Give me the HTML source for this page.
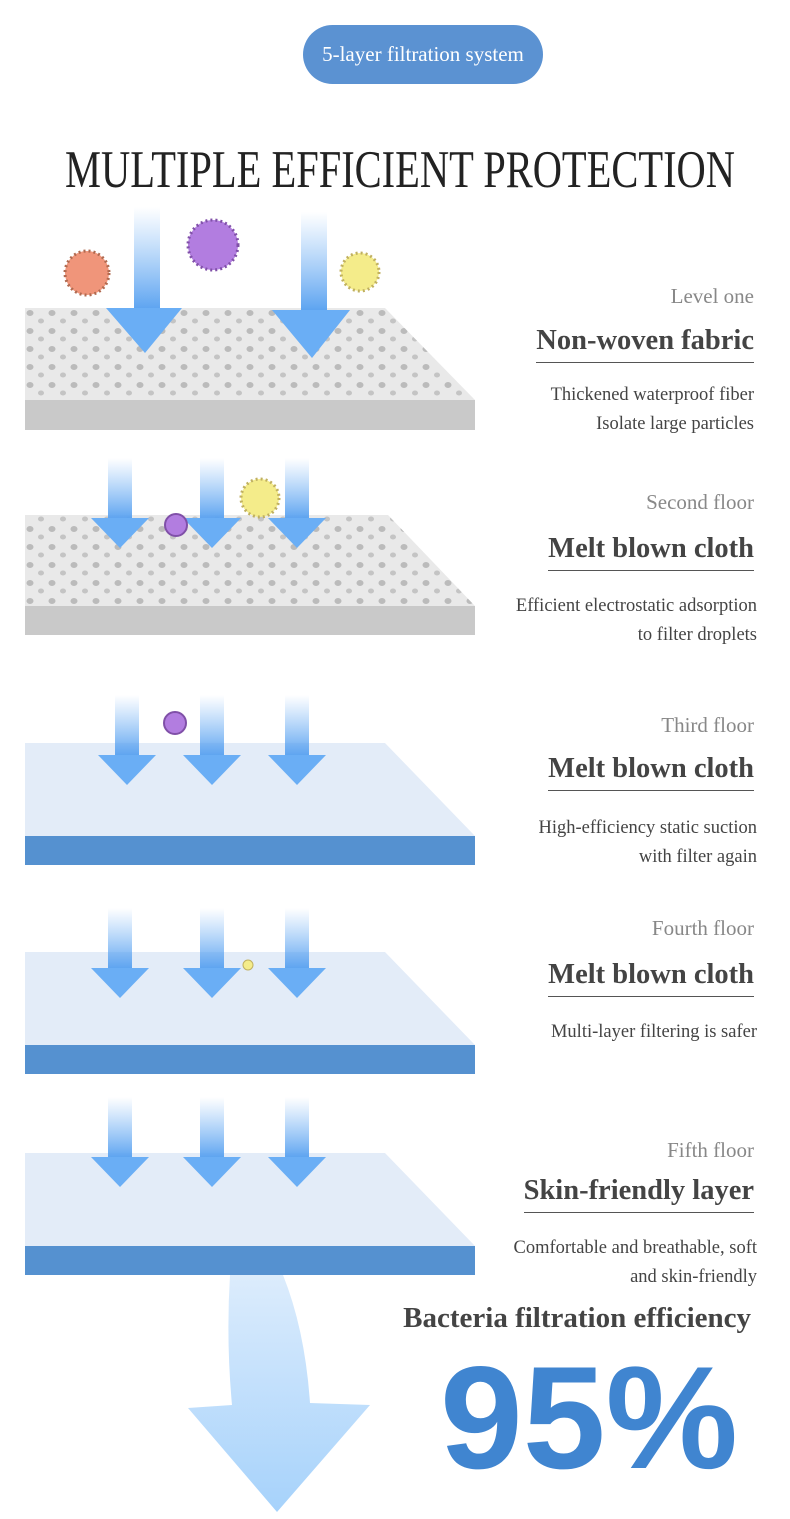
<!DOCTYPE html>
<html><head><meta charset="utf-8"><style>
body{margin:0;width:790px;height:1519px;position:relative;background:#fff;overflow:hidden;font-family:"Liberation Serif",serif}
.t{position:absolute;right:36px;text-align:right;white-space:nowrap}
.lv{font-size:21px;color:#888}
.h{font-size:28.5px;font-weight:bold;color:#444;border-bottom:1px solid #555;padding-bottom:5px}
.d{font-size:18.5px;color:#444;line-height:29px}
</style></head><body>
<div style="position:absolute;left:303px;top:25px;width:240px;height:59px;border-radius:30px;background:#5b92d2;color:#fff;font-size:21px;line-height:59px;text-align:center">5-layer filtration system</div>
<svg width="790" height="1519" style="position:absolute;left:0;top:0">
<defs>
<linearGradient id="a" x1="0" y1="0" x2="0" y2="1"><stop offset="0" stop-color="#6fb0f5" stop-opacity="0"/><stop offset="1" stop-color="#5aa2f0"/></linearGradient>
<linearGradient id="b" x1="0" y1="0" x2="0" y2="1"><stop offset="0" stop-color="#dcecfc"/><stop offset="1" stop-color="#a6d2fb"/></linearGradient>
<pattern id="p" width="22" height="18" patternUnits="userSpaceOnUse"><rect width="22" height="18" fill="#e9e9e9"/><ellipse cx="8" cy="7" rx="3.5" ry="3" fill="#bbb"/><ellipse cx="19" cy="15" rx="3" ry="2.5" fill="#c4c4c4"/></pattern>
<g id="ar"><rect x="-12" y="0" width="24" height="62" fill="url(#a)"/><polygon points="-29,60 29,60 0,90" fill="#6aaef5"/></g>
</defs>
<text x="65" y="187" textLength="670" lengthAdjust="spacingAndGlyphs" font-family="Liberation Serif, serif" font-size="53" fill="#222">MULTIPLE EFFICIENT PROTECTION</text>
<polygon points="25,308 385,308 475,400 25,400" fill="url(#p)"/><rect x="25" y="400" width="450" height="30" fill="#c9c9c9"/>
<polygon points="25,515 388,515 475,606 25,606" fill="url(#p)"/><rect x="25" y="606" width="450" height="29" fill="#c9c9c9"/>
<polygon points="25,743 385,743 475,836 25,836" fill="#e3ecf8"/><rect x="25" y="836" width="450" height="29" fill="#5591d0"/>
<polygon points="25,952 385,952 475,1045 25,1045" fill="#e3ecf8"/><rect x="25" y="1045" width="450" height="29" fill="#5591d0"/>
<polygon points="25,1153 385,1153 475,1246 25,1246" fill="#e3ecf8"/><rect x="25" y="1246" width="450" height="29" fill="#5591d0"/>
<rect x="134" y="207" width="26" height="104" fill="url(#a)"/><polygon points="106,308 182,308 145,353" fill="#6aaef5"/>
<rect x="301" y="212" width="26" height="100" fill="url(#a)"/><polygon points="272,310 350,310 312,358" fill="#6aaef5"/>
<use href="#ar" x="120" y="458"/><use href="#ar" x="212" y="458"/><use href="#ar" x="297" y="458"/>
<use href="#ar" x="127" y="695"/><use href="#ar" x="212" y="695"/><use href="#ar" x="297" y="695"/>
<use href="#ar" x="120" y="908"/><use href="#ar" x="212" y="908"/><use href="#ar" x="297" y="908"/>
<use href="#ar" x="120" y="1097"/><use href="#ar" x="212" y="1097"/><use href="#ar" x="297" y="1097"/>
<path d="M230,1275 L283,1275 Q305,1330 310,1403 L370,1405 L277,1512 L188,1408 L232,1405 Q226,1340 230,1275Z" fill="url(#b)"/>
<circle cx="87" cy="273" r="22" fill="#f0957a" stroke="#b06a50" stroke-dasharray="2 3" stroke-width="3"/>
<circle cx="213" cy="245" r="25" fill="#b27de0" stroke="#8050a8" stroke-dasharray="2 3" stroke-width="3"/>
<circle cx="360" cy="272" r="19" fill="#f4ec8a" stroke="#c0b060" stroke-dasharray="2 3" stroke-width="3"/>
<circle cx="176" cy="525" r="11" fill="#b27de0" stroke="#8050a8" stroke-width="2"/>
<circle cx="260" cy="498" r="19" fill="#f4ec8a" stroke="#c0b060" stroke-dasharray="2 3" stroke-width="3"/>
<circle cx="175" cy="723" r="11" fill="#b27de0" stroke="#8050a8" stroke-width="2"/>
<circle cx="248" cy="965" r="5" fill="#f4ec8a" stroke="#c0b060"/>
<text x="440" y="1468" textLength="298" lengthAdjust="spacingAndGlyphs" font-family="Liberation Sans, sans-serif" font-weight="bold" font-size="146" fill="#4085d0">95%</text>
</svg>
<div class="t lv" style="top:284px">Level one</div>
<div class="t h" style="top:325px">Non-woven fabric</div>
<div class="t d" style="top:381px">Thickened waterproof fiber<br>Isolate large particles</div>
<div class="t lv" style="top:490px">Second floor</div>
<div class="t h" style="top:533px">Melt blown cloth</div>
<div class="t d" style="top:592px;right:33px">Efficient electrostatic adsorption<br>to filter droplets</div>
<div class="t lv" style="top:713px">Third floor</div>
<div class="t h" style="top:753px">Melt blown cloth</div>
<div class="t d" style="top:814px;right:33px">High-efficiency static suction<br>with filter again</div>
<div class="t lv" style="top:916px">Fourth floor</div>
<div class="t h" style="top:959px">Melt blown cloth</div>
<div class="t d" style="top:1018px;right:33px">Multi-layer filtering is safer</div>
<div class="t lv" style="top:1138px">Fifth floor</div>
<div class="t h" style="top:1175px">Skin-friendly layer</div>
<div class="t d" style="top:1234px;right:33px">Comfortable and breathable, soft<br>and skin-friendly</div>
<div class="t" style="top:1302px;right:39px;font-size:29px;font-weight:bold;color:#444">Bacteria filtration efficiency</div>
</body></html>
